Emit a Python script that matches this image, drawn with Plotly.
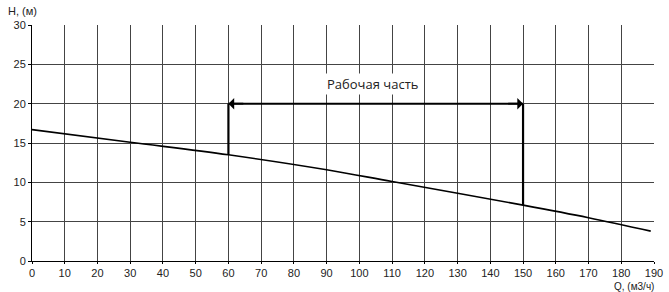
import plotly.graph_objects as go

q_vals = [0, 30, 60, 90, 110, 150, 170, 189]
h_vals = [16.7, 15.1, 13.5, 11.6, 10.1, 7.1, 5.5, 3.8]

work_q = [60, 150]
work_h_top = 20
work_h_bottom = [13.5, 7.1]
label_text = "Рабочая часть"

x_ticks = list(range(0, 191, 10))
y_ticks = list(range(0, 31, 5))

fig = go.Figure()
fig.add_trace(go.Scatter(x=q_vals, y=h_vals, mode="lines",
                         line=dict(color="black", width=1.6, shape="spline"),
                         showlegend=False, hoverinfo="skip"))
for q, hb in zip(work_q, work_h_bottom):
    fig.add_trace(go.Scatter(x=[q, q], y=[hb, work_h_top], mode="lines",
                             line=dict(color="black", width=2.2),
                             showlegend=False, hoverinfo="skip"))
fig.add_trace(go.Scatter(x=work_q, y=[work_h_top, work_h_top], mode="lines",
                         line=dict(color="black", width=2),
                         showlegend=False, hoverinfo="skip"))
# arrowheads
fig.add_annotation(x=work_q[0], y=work_h_top, ax=work_q[0] + 5, ay=work_h_top,
                   xref="x", yref="y", axref="x", ayref="y", text="",
                   showarrow=True, arrowhead=1, arrowsize=1.2, arrowwidth=1.6, arrowcolor="black")
fig.add_annotation(x=work_q[1], y=work_h_top, ax=work_q[1] - 5, ay=work_h_top,
                   xref="x", yref="y", axref="x", ayref="y", text="",
                   showarrow=True, arrowhead=1, arrowsize=1.2, arrowwidth=1.6, arrowcolor="black")
fig.add_annotation(x=104, y=22.5, xref="x", yref="y", text=label_text, showarrow=False,
                   bgcolor="white", font=dict(family="Open Sans", size=13, color="#222"))

fig.add_annotation(x=0, y=1, xref="paper", yref="paper", xanchor="right", yanchor="bottom",
                   xshift=7, yshift=6, text="H, (м)", showarrow=False,
                   font=dict(family="Liberation Sans", size=11, color="#222"))
fig.add_annotation(x=1, y=0, xref="paper", yref="paper", xanchor="right", yanchor="top",
                   xshift=2, yshift=-18, text="Q, (м3/ч)", showarrow=False,
                   font=dict(family="Liberation Sans", size=10, color="#222"))

axis_common = dict(showgrid=True, gridcolor="#444", gridwidth=1,
                   showline=True, linecolor="black", linewidth=1,
                   ticks="outside", ticklen=3, tickcolor="black",
                   zeroline=False, mirror=False, automargin=False,
                   tickfont=dict(family="Liberation Sans", size=11, color="#222"))
fig.update_xaxes(range=[0, 190], tickvals=x_ticks, ticklen=2, **{k: v for k, v in axis_common.items() if k != "ticklen"})
fig.update_yaxes(range=[0, 30], tickvals=y_ticks, **axis_common)

fig.update_layout(width=669, height=292, margin=dict(l=32, r=15, t=25, b=31),
                  plot_bgcolor="white", paper_bgcolor="white")
fig.write_html("out.html")
